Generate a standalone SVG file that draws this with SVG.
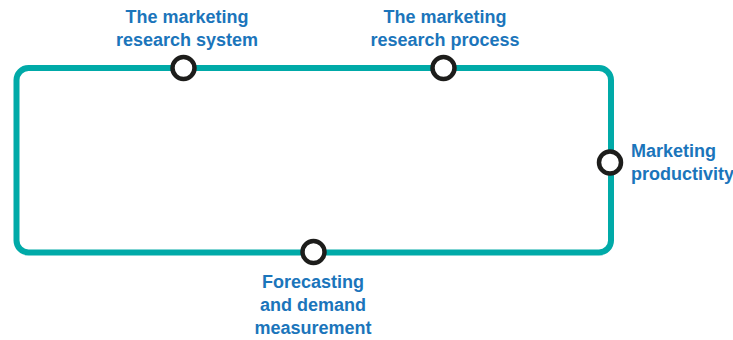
<svg xmlns="http://www.w3.org/2000/svg" width="733" height="340" viewBox="0 0 733 340">
<style>
.loop{fill:none;stroke:#00aaa8;stroke-width:6;}
.node{fill:#fff;stroke:#1d1d1b;stroke-width:4.5;}
.lbl{font-family:"Liberation Sans",Arial,sans-serif;font-size:18px;font-weight:bold;fill:#1b75bb;}
.c{text-anchor:middle;}
</style>
<rect width="733" height="340" fill="#fff"/>
<g id="connectors">
<rect class="loop" x="16.5" y="68" width="594.5" height="184.5" rx="12" ry="12"/>
</g>
<g id="node-system">
<circle class="node" cx="183.5" cy="68" r="11"/>
<text class="lbl c" x="187" y="23">The marketing</text>
<text class="lbl c" x="187" y="46">research system</text>
</g>
<g id="node-process">
<circle class="node" cx="443.5" cy="68" r="11"/>
<text class="lbl c" x="445" y="23">The marketing</text>
<text class="lbl c" x="445" y="46">research process</text>
</g>
<g id="node-productivity">
<circle class="node" cx="610" cy="162.5" r="11"/>
<text class="lbl" x="631" y="157">Marketing</text>
<text class="lbl" x="631" y="180">productivity</text>
</g>
<g id="node-forecasting">
<circle class="node" cx="313.5" cy="252" r="11"/>
<text class="lbl c" x="313" y="288">Forecasting</text>
<text class="lbl c" x="313" y="311">and demand</text>
<text class="lbl c" x="313" y="334">measurement</text>
</g>
</svg>
